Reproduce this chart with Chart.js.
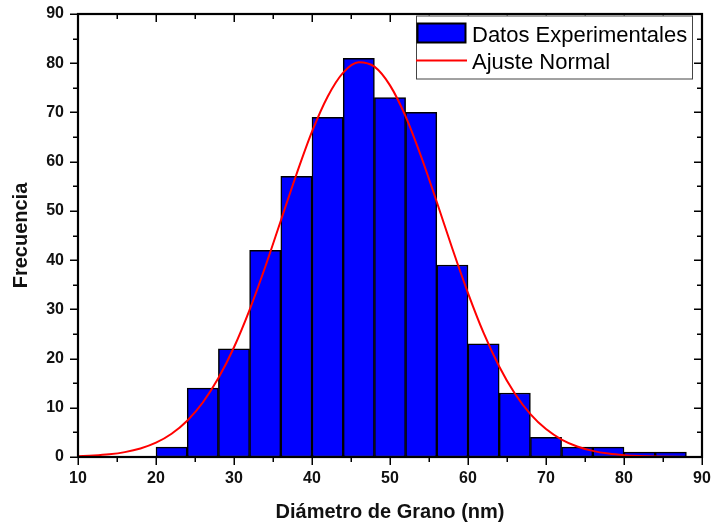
<!DOCTYPE html>
<html><head><meta charset="utf-8">
<script src="https://cdn.jsdelivr.net/npm/chart.js@4"></script>
<style>html,body{margin:0;padding:0;background:#fff}</style>
</head><body>
<canvas id="c" width="712" height="527"></canvas>
<script>
// ---- data ----
const binLower = [20,24,28,32,36,40,44,48,52,56,60,64,68,72,76,80,84];
const binWidth = 4;
const counts   = [2,14,22,42,57,69,81,73,70,39,23,13,4,2,2,1,1];
const fitX = [10,12,14,16,18,20,22,24,26,28,30,32,34,36,38,40,42,44,46,48,50,52,54,56,58,60,62,64,66,68,70,72,74,76,78,80,82,84,86,88,90];
const fitY = [0.15,0.29,0.54,0.99,1.73,2.91,4.72,7.37,11.07,16.03,22.3,29.9,38.6,48.0,57.4,66.1,73.2,78.1,80.2,79.3,75.5,69.2,61.0,51.8,42.3,33.3,25.2,18.4,12.9,8.71,5.67,3.55,2.14,1.24,0.69,0.37,0.19,0.10,0.05,0.02,0.01];
const xTicks = [10,20,30,40,50,60,70,80,90];
const yTicks = [0,10,20,30,40,50,60,70,80,90];
const seriesNames = ['Datos Experimentales','Ajuste Normal'];
const xTitle = 'Diámetro de Grano (nm)';
const yTitle = 'Frecuencia';

const FONT = '"Liberation Sans", Arial, Helvetica, sans-serif';
const barData = binLower.map((lo, i) => ({x: lo + binWidth / 2, y: counts[i]}));
const fitData = fitX.map((x, i) => ({x, y: fitY[i]}));

function minorValues(ticks) {
  const out = [];
  for (let i = 0; i < ticks.length - 1; i++) out.push((ticks[i] + ticks[i + 1]) / 2);
  return out;
}

const framePlugin = {
  id: 'frame',
  afterDatasetsDraw(chart) {
    const {ctx, chartArea: a, scales: {x, y}} = chart;
    ctx.save();
    ctx.strokeStyle = '#000';
    ctx.lineWidth = 1.5;
    const MAJ = 8, MIN = 5;
    const drawX = (v, L) => {
      const px = Math.round(x.getPixelForValue(v)) + 0.25;
      ctx.beginPath();
      ctx.moveTo(px, a.bottom); ctx.lineTo(px, a.bottom + L);
      ctx.moveTo(px, a.top); ctx.lineTo(px, a.top + L);
      ctx.stroke();
    };
    const drawY = (v, L) => {
      const py = Math.round(y.getPixelForValue(v)) + 0.25;
      ctx.beginPath();
      ctx.moveTo(a.left, py); ctx.lineTo(a.left - L, py);
      ctx.moveTo(a.right, py); ctx.lineTo(a.right - L, py);
      ctx.stroke();
    };
    xTicks.forEach(v => drawX(v, MAJ));
    minorValues(xTicks).forEach(v => drawX(v, MIN));
    yTicks.forEach(v => drawY(v, MAJ));
    minorValues(yTicks).forEach(v => drawY(v, MIN));
    ctx.lineWidth = 2.2;
    ctx.strokeRect(a.left, a.top, a.right - a.left, a.bottom - a.top);
    ctx.restore();
  },
  afterDraw(chart) {
    const {ctx, chartArea: a} = chart;
    const right = a.right - 10, top = a.top + 1.5;
    const left = right - 276, h = 63;
    ctx.save();
    ctx.fillStyle = '#fff';
    ctx.fillRect(left, top, right - left, h);
    ctx.strokeStyle = '#444';
    ctx.lineWidth = 1;
    ctx.strokeRect(left + 0.5, top + 0.5, right - left, h);
    // swatch
    ctx.fillStyle = '#0000ff';
    ctx.fillRect(left + 1.5, top + 8, 48, 19);
    ctx.strokeStyle = '#000';
    ctx.lineWidth = 2;
    ctx.strokeRect(left + 1.5, top + 8, 48, 19);
    // line
    ctx.strokeStyle = '#ff0000';
    ctx.lineWidth = 2;
    ctx.beginPath();
    ctx.moveTo(left, top + 45); ctx.lineTo(left + 51, top + 45);
    ctx.stroke();
    ctx.fillStyle = '#000';
    ctx.font = '22px ' + FONT;
    ctx.textBaseline = 'alphabetic';
    ctx.textAlign = 'left';
    ctx.fillText(seriesNames[0], left + 56, top + 26);
    ctx.fillText(seriesNames[1], left + 56, top + 53);
    ctx.restore();
  }
};

new Chart(document.getElementById('c'), {
  type: 'bar',
  data: {
    datasets: [
      {
        type: 'bar',
        label: seriesNames[0],
        data: barData,
        backgroundColor: '#0000ff',
        borderColor: '#000',
        borderWidth: 1.5,
        borderSkipped: false,
        barPercentage: 1.0,
        categoryPercentage: 1.0,
        order: 2
      },
      {
        type: 'line',
        label: seriesNames[1],
        data: fitData,
        borderColor: '#ff0000',
        borderWidth: 2,
        pointRadius: 0,
        fill: false,
        cubicInterpolationMode: 'monotone',
        order: 1
      }
    ]
  },
  options: {
    responsive: false,
    animation: false,
    devicePixelRatio: 1,
    layout: {padding: {top: 14, right: 10, left: 0, bottom: 0}},
    plugins: {legend: {display: false}, tooltip: {enabled: false}},
    scales: {
      x: {
        type: 'linear',
        offset: false,
        min: 10, max: 90,
        afterBuildTicks: s => { s.ticks = xTicks.map(v => ({value: v})); },
        afterFit: s => { s.height = 70; s.paddingLeft = 0; s.paddingRight = 0; },
        grid: {display: false, drawTicks: false, tickLength: 0, offset: false},
        border: {display: false},
        ticks: {padding: 12, color: '#111', font: {family: FONT, size: 16, weight: 'bold'}, maxRotation: 0, autoSkip: false},
        title: {display: true, text: xTitle, color: '#111', font: {family: FONT, size: 20, weight: 'bold'}, padding: {top: 0, bottom: 3}}
      },
      y: {
        type: 'linear',
        min: 0, max: 90,
        afterBuildTicks: s => { s.ticks = yTicks.map(v => ({value: v})); },
        afterFit: s => { s.width = 78; s.paddingTop = 0; s.paddingBottom = 0; },
        grid: {display: false, drawTicks: false, tickLength: 0},
        border: {display: false},
        ticks: {padding: 14, color: '#111', font: {family: FONT, size: 16, weight: 'bold'}, autoSkip: false},
        title: {display: true, text: yTitle, color: '#111', font: {family: FONT, size: 20, weight: 'bold'}, padding: {top: 9, bottom: 0}}
      }
    }
  },
  plugins: [framePlugin]
});
</script>
</body></html>
